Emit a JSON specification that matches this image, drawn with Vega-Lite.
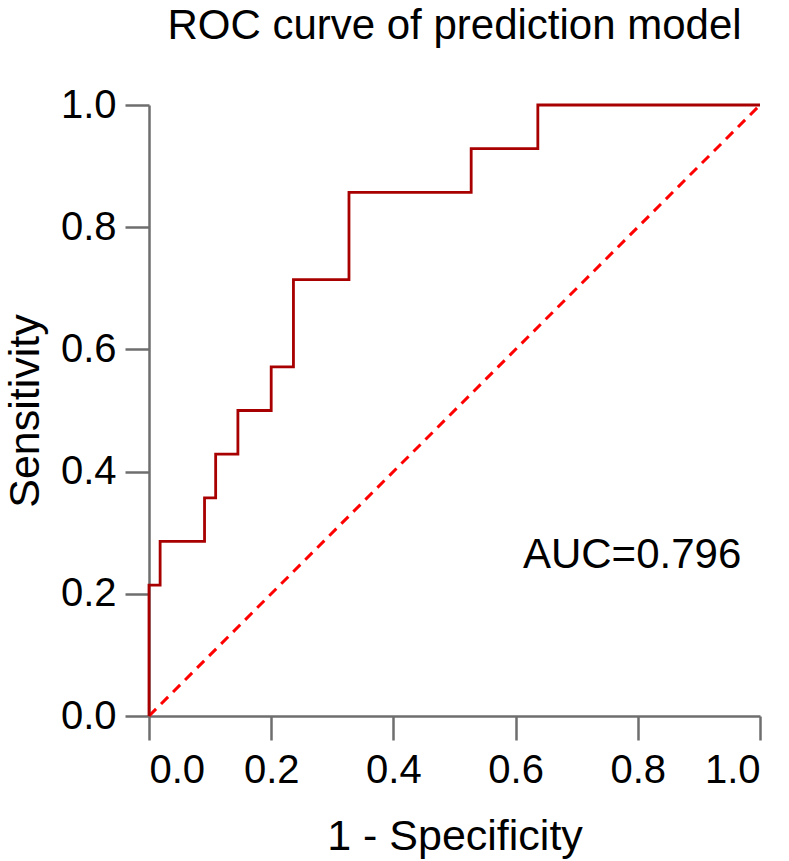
{
  "$schema": "https://vega.github.io/schema/vega-lite/v6.json",
  "autosize": "none",
  "width": 611,
  "height": 611,
  "padding": {"left": 149, "top": 105, "right": 29, "bottom": 145},
  "background": "white",
  "config": {
    "view": {"stroke": null},
    "font": "Liberation Sans",
    "axis": {
      "grid": false,
      "domainColor": "#6e6e6e",
      "domainWidth": 2.5,
      "tickColor": "#6e6e6e",
      "tickWidth": 2.5,
      "tickSize": 24,
      "labelFont": "Liberation Sans",
      "labelFontSize": 40,
      "labelColor": "#000000",
      "titleFont": "Liberation Sans",
      "titleFontSize": 43,
      "titleFontWeight": "normal",
      "titleColor": "#000000"
    }
  },
  "title": {
    "text": "ROC curve of prediction model",
    "font": "Liberation Sans",
    "fontSize": 42,
    "fontWeight": "normal",
    "color": "#000000",
    "anchor": "middle",
    "frame": "group",
    "baseline": "alphabetic",
    "offset": 4
  },
  "datasets": {
    "roc": [
      {"fpr": 0, "tpr": 0},
      {"fpr": 0, "tpr": 0.2143},
      {"fpr": 0.0182, "tpr": 0.2857},
      {"fpr": 0.0909, "tpr": 0.3571},
      {"fpr": 0.1091, "tpr": 0.4286},
      {"fpr": 0.1455, "tpr": 0.5},
      {"fpr": 0.2, "tpr": 0.5714},
      {"fpr": 0.2364, "tpr": 0.7143},
      {"fpr": 0.3273, "tpr": 0.8571},
      {"fpr": 0.5273, "tpr": 0.9286},
      {"fpr": 0.6364, "tpr": 1},
      {"fpr": 1, "tpr": 1}
    ],
    "diag": [
      {"fpr": 0, "tpr": 0},
      {"fpr": 1, "tpr": 1}
    ],
    "label": [
      {"fpr": 0.612, "tpr": 0.242, "text": "AUC=0.796"}
    ]
  },
  "layer": [
    {
      "data": {"name": "diag"},
      "mark": {"type": "line", "color": "#ff0000", "strokeWidth": 3, "strokeDash": [10, 7]},
      "encoding": {
        "x": {"field": "fpr", "type": "quantitative", "scale": {"domain": [0, 1]},
          "axis": {"title": "1 - Specificity", "values": [0, 0.2, 0.4, 0.6, 0.8, 1], "format": ".1f", "labelPadding": 10, "titlePadding": 25}},
        "y": {"field": "tpr", "type": "quantitative", "scale": {"domain": [0, 1]},
          "axis": {"title": "Sensitivity", "values": [0, 0.2, 0.4, 0.6, 0.8, 1], "format": ".1f", "labelPadding": 9, "titlePadding": 13}}
      }
    },
    {
      "data": {"name": "roc"},
      "mark": {"type": "line", "interpolate": "step-after", "color": "#a80000", "strokeWidth": 2.8},
      "encoding": {
        "x": {"field": "fpr", "type": "quantitative"},
        "y": {"field": "tpr", "type": "quantitative"},
        "order": {"field": "tpr", "type": "quantitative"}
      }
    },
    {
      "data": {"name": "label"},
      "mark": {"type": "text", "align": "left", "baseline": "alphabetic", "fontSize": 42, "font": "Liberation Sans", "color": "#000000"},
      "encoding": {
        "x": {"field": "fpr", "type": "quantitative"},
        "y": {"field": "tpr", "type": "quantitative"},
        "text": {"field": "text"}
      }
    }
  ]
}
